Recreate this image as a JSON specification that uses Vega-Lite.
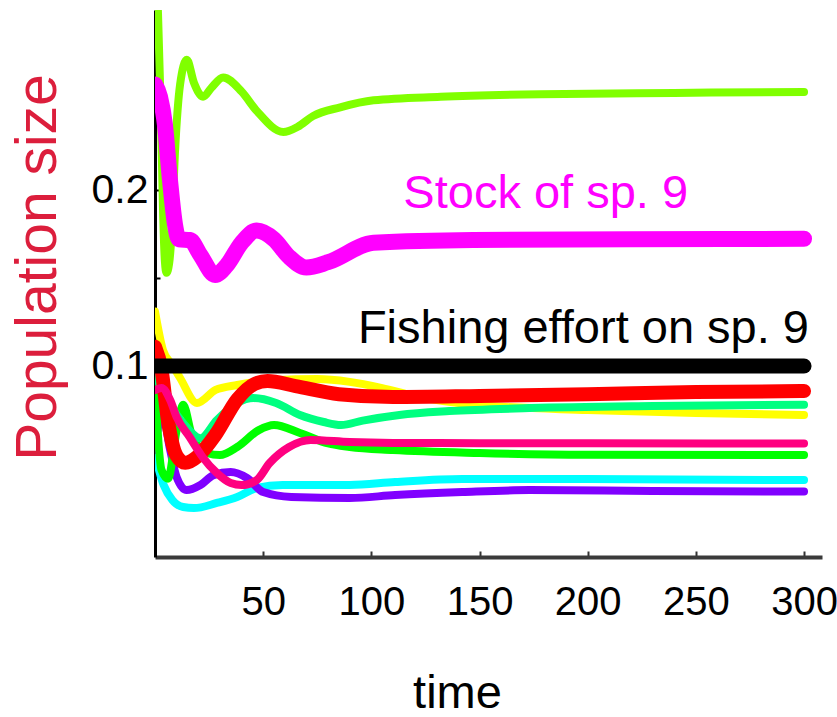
{
  "$schema": "https://vega.github.io/schema/vega-lite/v6.json",
  "width": 667,
  "height": 547,
  "autosize": {"type": "none"},
  "padding": {"left": 155, "top": 10, "right": 15, "bottom": 160},
  "background": "white",
  "config": {"view": {"stroke": null}},
  "datasets": {
    "series": [
      {"s": "sp. 2", "t": 0, "v": 0.131}, {"s": "sp. 2", "t": 3.7, "v": 0.109}, {"s": "sp. 2", "t": 8, "v": 0.1006}, {"s": "sp. 2", "t": 11.6, "v": 0.0932}, {"s": "sp. 2", "t": 19.4, "v": 0.079}, {"s": "sp. 2", "t": 28, "v": 0.0864}, {"s": "sp. 2", "t": 38, "v": 0.0892}, {"s": "sp. 2", "t": 55, "v": 0.092}, {"s": "sp. 2", "t": 75, "v": 0.0926}, {"s": "sp. 2", "t": 90, "v": 0.091}, {"s": "sp. 2", "t": 105, "v": 0.0875}, {"s": "sp. 2", "t": 120, "v": 0.083}, {"s": "sp. 2", "t": 150, "v": 0.0778}, {"s": "sp. 2", "t": 200, "v": 0.075}, {"s": "sp. 2", "t": 250, "v": 0.0733}, {"s": "sp. 2", "t": 300, "v": 0.0722},
      {"s": "sp. 7", "t": 0, "v": 0.0494}, {"s": "sp. 7", "t": 4, "v": 0.0324}, {"s": "sp. 7", "t": 8, "v": 0.0239}, {"s": "sp. 7", "t": 13, "v": 0.0199}, {"s": "sp. 7", "t": 18, "v": 0.0193}, {"s": "sp. 7", "t": 28.6, "v": 0.0222}, {"s": "sp. 7", "t": 38, "v": 0.0256}, {"s": "sp. 7", "t": 47, "v": 0.0307}, {"s": "sp. 7", "t": 59, "v": 0.0324}, {"s": "sp. 7", "t": 90, "v": 0.0324}, {"s": "sp. 7", "t": 111, "v": 0.0341}, {"s": "sp. 7", "t": 142, "v": 0.0358}, {"s": "sp. 7", "t": 200, "v": 0.0358}, {"s": "sp. 7", "t": 300, "v": 0.0352},
      {"s": "sp. 8", "t": 0, "v": 0.0523}, {"s": "sp. 8", "t": 3.3, "v": 0.0739}, {"s": "sp. 8", "t": 7, "v": 0.0523}, {"s": "sp. 8", "t": 10, "v": 0.0369}, {"s": "sp. 8", "t": 14.6, "v": 0.0295}, {"s": "sp. 8", "t": 21, "v": 0.0324}, {"s": "sp. 8", "t": 27, "v": 0.038}, {"s": "sp. 8", "t": 35, "v": 0.0398}, {"s": "sp. 8", "t": 42.5, "v": 0.0364}, {"s": "sp. 8", "t": 50, "v": 0.0284}, {"s": "sp. 8", "t": 63, "v": 0.0256}, {"s": "sp. 8", "t": 90, "v": 0.025}, {"s": "sp. 8", "t": 111, "v": 0.0267}, {"s": "sp. 8", "t": 142, "v": 0.0284}, {"s": "sp. 8", "t": 173, "v": 0.0295}, {"s": "sp. 8", "t": 230, "v": 0.029}, {"s": "sp. 8", "t": 300, "v": 0.0287},
      {"s": "sp. 5", "t": 0, "v": 0.088}, {"s": "sp. 5", "t": 3, "v": 0.041}, {"s": "sp. 5", "t": 6, "v": 0.036}, {"s": "sp. 5", "t": 10, "v": 0.0636}, {"s": "sp. 5", "t": 13, "v": 0.078}, {"s": "sp. 5", "t": 17, "v": 0.061}, {"s": "sp. 5", "t": 24, "v": 0.0506}, {"s": "sp. 5", "t": 30, "v": 0.0494}, {"s": "sp. 5", "t": 38, "v": 0.054}, {"s": "sp. 5", "t": 48, "v": 0.0636}, {"s": "sp. 5", "t": 55, "v": 0.0665}, {"s": "sp. 5", "t": 67, "v": 0.062}, {"s": "sp. 5", "t": 80, "v": 0.056}, {"s": "sp. 5", "t": 90, "v": 0.054}, {"s": "sp. 5", "t": 110, "v": 0.0523}, {"s": "sp. 5", "t": 150, "v": 0.0506}, {"s": "sp. 5", "t": 200, "v": 0.0496}, {"s": "sp. 5", "t": 300, "v": 0.0494},
      {"s": "sp. 4", "t": 0, "v": 0.095}, {"s": "sp. 4", "t": 7.7, "v": 0.0767}, {"s": "sp. 4", "t": 13, "v": 0.0676}, {"s": "sp. 4", "t": 21, "v": 0.059}, {"s": "sp. 4", "t": 28.6, "v": 0.0693}, {"s": "sp. 4", "t": 38, "v": 0.079}, {"s": "sp. 4", "t": 45.5, "v": 0.0818}, {"s": "sp. 4", "t": 56, "v": 0.079}, {"s": "sp. 4", "t": 67, "v": 0.0722}, {"s": "sp. 4", "t": 78, "v": 0.0682}, {"s": "sp. 4", "t": 86, "v": 0.0665}, {"s": "sp. 4", "t": 96, "v": 0.069}, {"s": "sp. 4", "t": 113, "v": 0.0722}, {"s": "sp. 4", "t": 136, "v": 0.0744}, {"s": "sp. 4", "t": 173, "v": 0.0761}, {"s": "sp. 4", "t": 230, "v": 0.0773}, {"s": "sp. 4", "t": 300, "v": 0.078},
      {"s": "sp. 3", "t": 0, "v": 0.111}, {"s": "sp. 3", "t": 3, "v": 0.098}, {"s": "sp. 3", "t": 6, "v": 0.069}, {"s": "sp. 3", "t": 10, "v": 0.049}, {"s": "sp. 3", "t": 14, "v": 0.045}, {"s": "sp. 3", "t": 20, "v": 0.049}, {"s": "sp. 3", "t": 28, "v": 0.061}, {"s": "sp. 3", "t": 38, "v": 0.081}, {"s": "sp. 3", "t": 46, "v": 0.0898}, {"s": "sp. 3", "t": 52, "v": 0.0915}, {"s": "sp. 3", "t": 65, "v": 0.0886}, {"s": "sp. 3", "t": 85, "v": 0.084}, {"s": "sp. 3", "t": 110, "v": 0.0824}, {"s": "sp. 3", "t": 150, "v": 0.083}, {"s": "sp. 3", "t": 200, "v": 0.084}, {"s": "sp. 3", "t": 250, "v": 0.0852}, {"s": "sp. 3", "t": 300, "v": 0.0858},
      {"s": "sp. 6", "t": 0, "v": 0.0864}, {"s": "sp. 6", "t": 3, "v": 0.0875}, {"s": "sp. 6", "t": 7, "v": 0.0807}, {"s": "sp. 6", "t": 10, "v": 0.071}, {"s": "sp. 6", "t": 16, "v": 0.0597}, {"s": "sp. 6", "t": 22, "v": 0.0483}, {"s": "sp. 6", "t": 28.6, "v": 0.0392}, {"s": "sp. 6", "t": 35, "v": 0.0335}, {"s": "sp. 6", "t": 40, "v": 0.0324}, {"s": "sp. 6", "t": 47, "v": 0.0352}, {"s": "sp. 6", "t": 53, "v": 0.0449}, {"s": "sp. 6", "t": 62, "v": 0.054}, {"s": "sp. 6", "t": 72, "v": 0.058}, {"s": "sp. 6", "t": 90, "v": 0.0568}, {"s": "sp. 6", "t": 110, "v": 0.0563}, {"s": "sp. 6", "t": 150, "v": 0.0562}, {"s": "sp. 6", "t": 200, "v": 0.0561}, {"s": "sp. 6", "t": 300, "v": 0.056},
      {"s": "sp. 1", "t": 0, "v": 0.34}, {"s": "sp. 1", "t": 1.4, "v": 0.30}, {"s": "sp. 1", "t": 2.8, "v": 0.24}, {"s": "sp. 1", "t": 3.7, "v": 0.189}, {"s": "sp. 1", "t": 4.6, "v": 0.159}, {"s": "sp. 1", "t": 5.3, "v": 0.153}, {"s": "sp. 1", "t": 6.5, "v": 0.158}, {"s": "sp. 1", "t": 7.5, "v": 0.172}, {"s": "sp. 1", "t": 9.3, "v": 0.223}, {"s": "sp. 1", "t": 11.6, "v": 0.26}, {"s": "sp. 1", "t": 14.7, "v": 0.274}, {"s": "sp. 1", "t": 18, "v": 0.261}, {"s": "sp. 1", "t": 22.2, "v": 0.253}, {"s": "sp. 1", "t": 26, "v": 0.258}, {"s": "sp. 1", "t": 31.5, "v": 0.264}, {"s": "sp. 1", "t": 40, "v": 0.256}, {"s": "sp. 1", "t": 47, "v": 0.245}, {"s": "sp. 1", "t": 59.3, "v": 0.233}, {"s": "sp. 1", "t": 66, "v": 0.236}, {"s": "sp. 1", "t": 73, "v": 0.242}, {"s": "sp. 1", "t": 85.6, "v": 0.247}, {"s": "sp. 1", "t": 101, "v": 0.251}, {"s": "sp. 1", "t": 132, "v": 0.253}, {"s": "sp. 1", "t": 178, "v": 0.2545}, {"s": "sp. 1", "t": 240, "v": 0.2552}, {"s": "sp. 1", "t": 300, "v": 0.2557},
      {"s": "Stock of sp. 9", "t": 0, "v": 0.26}, {"s": "Stock of sp. 9", "t": 2.3, "v": 0.253}, {"s": "Stock of sp. 9", "t": 4.6, "v": 0.237}, {"s": "Stock of sp. 9", "t": 6.9, "v": 0.206}, {"s": "Stock of sp. 9", "t": 9.3, "v": 0.18}, {"s": "Stock of sp. 9", "t": 11, "v": 0.172}, {"s": "Stock of sp. 9", "t": 16.2, "v": 0.1716}, {"s": "Stock of sp. 9", "t": 21, "v": 0.163}, {"s": "Stock of sp. 9", "t": 27.8, "v": 0.1517}, {"s": "Stock of sp. 9", "t": 33, "v": 0.157}, {"s": "Stock of sp. 9", "t": 40, "v": 0.17}, {"s": "Stock of sp. 9", "t": 47, "v": 0.177}, {"s": "Stock of sp. 9", "t": 55, "v": 0.172}, {"s": "Stock of sp. 9", "t": 62, "v": 0.162}, {"s": "Stock of sp. 9", "t": 70, "v": 0.156}, {"s": "Stock of sp. 9", "t": 80, "v": 0.159}, {"s": "Stock of sp. 9", "t": 101, "v": 0.17}, {"s": "Stock of sp. 9", "t": 147, "v": 0.1716}, {"s": "Stock of sp. 9", "t": 220, "v": 0.172}, {"s": "Stock of sp. 9", "t": 300, "v": 0.1723},
      {"s": "Fishing effort on sp. 9", "t": 0, "v": 0.1}, {"s": "Fishing effort on sp. 9", "t": 300, "v": 0.1}
    ],
    "labels": [
      {"label": "Stock of sp. 9", "t": 114.8, "v": 0.1898},
      {"label": "Fishing effort on sp. 9", "t": 302.3, "v": 0.113}
    ]
  },
  "layer": [
    {
      "data": {"name": "series"},
      "mark": {"type": "line", "interpolate": "monotone", "clip": true, "strokeCap": "round", "strokeJoin": "round"},
      "encoding": {
        "x": {
          "field": "t", "type": "quantitative",
          "scale": {"domain": [0, 308.3], "nice": false, "zero": false},
          "axis": {
            "title": "time", "values": [50, 100, 150, 200, 250, 300],
            "grid": false, "domainColor": "#3a3a3a", "domainWidth": 4,
            "tickColor": "#333", "tickWidth": 2, "tickSize": -6,
            "labelFont": "Liberation Sans, Arial, sans-serif",
            "labelFontSize": 40, "labelColor": "black", "labelPadding": 31, "labelBaseline": "top",
            "titleFont": "Liberation Sans, Arial, sans-serif",
            "titleFontSize": 47, "titleFontWeight": "normal", "titleColor": "black",
            "titleX": 302, "titleY": 150, "titleAlign": "center", "titleBaseline": "alphabetic"
          }
        },
        "y": {
          "field": "v", "type": "quantitative",
          "scale": {"domain": [-0.0085, 0.3023], "nice": false, "zero": false},
          "axis": {
            "title": "Population size", "values": [0.1, 0.15, 0.2],
            "labelExpr": "datum.value == 0.15 ? '' : format(datum.value, '.1f')",
            "grid": false, "domainColor": "black", "domainWidth": 3,
            "tickColor": "black", "tickWidth": 2, "tickSize": -5,
            "labelFont": "Liberation Sans, Arial, sans-serif",
            "labelFontSize": 41, "labelColor": "black", "labelPadding": 12,
            "titleFont": "Liberation Sans, Arial, sans-serif",
            "titleFontSize": 57, "titleFontWeight": "normal", "titleColor": "#dc1e3c",
            "titleX": -100, "titleY": 257, "titleAlign": "center", "titleBaseline": "alphabetic", "titleAngle": -90
          }
        },
        "color": {
          "field": "s", "type": "nominal", "legend": null,
          "scale": {
            "domain": ["sp. 2", "sp. 7", "sp. 8", "sp. 5", "sp. 4", "sp. 3", "sp. 6", "sp. 1", "Stock of sp. 9", "Fishing effort on sp. 9"],
            "range": ["#ffff00", "#00ffff", "#8000ff", "#00ff00", "#00ff80", "#ff0000", "#ff0080", "#80ff00", "#ff00ff", "#000000"]
          }
        },
        "strokeWidth": {
          "field": "s", "type": "ordinal", "legend": null,
          "scale": {
            "type": "ordinal",
            "domain": ["sp. 2", "sp. 7", "sp. 8", "sp. 5", "sp. 4", "sp. 3", "sp. 6", "sp. 1", "Stock of sp. 9", "Fishing effort on sp. 9"],
            "range": [8, 8, 8, 8, 8, 14, 8, 8, 16, 15]
          }
        }
      }
    },
    {
      "data": {"name": "labels"},
      "transform": [{"filter": "datum.label == 'Stock of sp. 9'"}],
      "mark": {"type": "text", "align": "left", "baseline": "alphabetic", "font": "Liberation Sans, Arial, sans-serif", "fontSize": 47, "color": "#ff00ff"},
      "encoding": {
        "x": {"field": "t", "type": "quantitative"},
        "y": {"field": "v", "type": "quantitative"},
        "text": {"field": "label"}
      }
    },
    {
      "data": {"name": "labels"},
      "transform": [{"filter": "datum.label == 'Fishing effort on sp. 9'"}],
      "mark": {"type": "text", "align": "right", "baseline": "alphabetic", "font": "Liberation Sans, Arial, sans-serif", "fontSize": 47, "color": "black"},
      "encoding": {
        "x": {"field": "t", "type": "quantitative"},
        "y": {"field": "v", "type": "quantitative"},
        "text": {"field": "label"}
      }
    }
  ]
}
